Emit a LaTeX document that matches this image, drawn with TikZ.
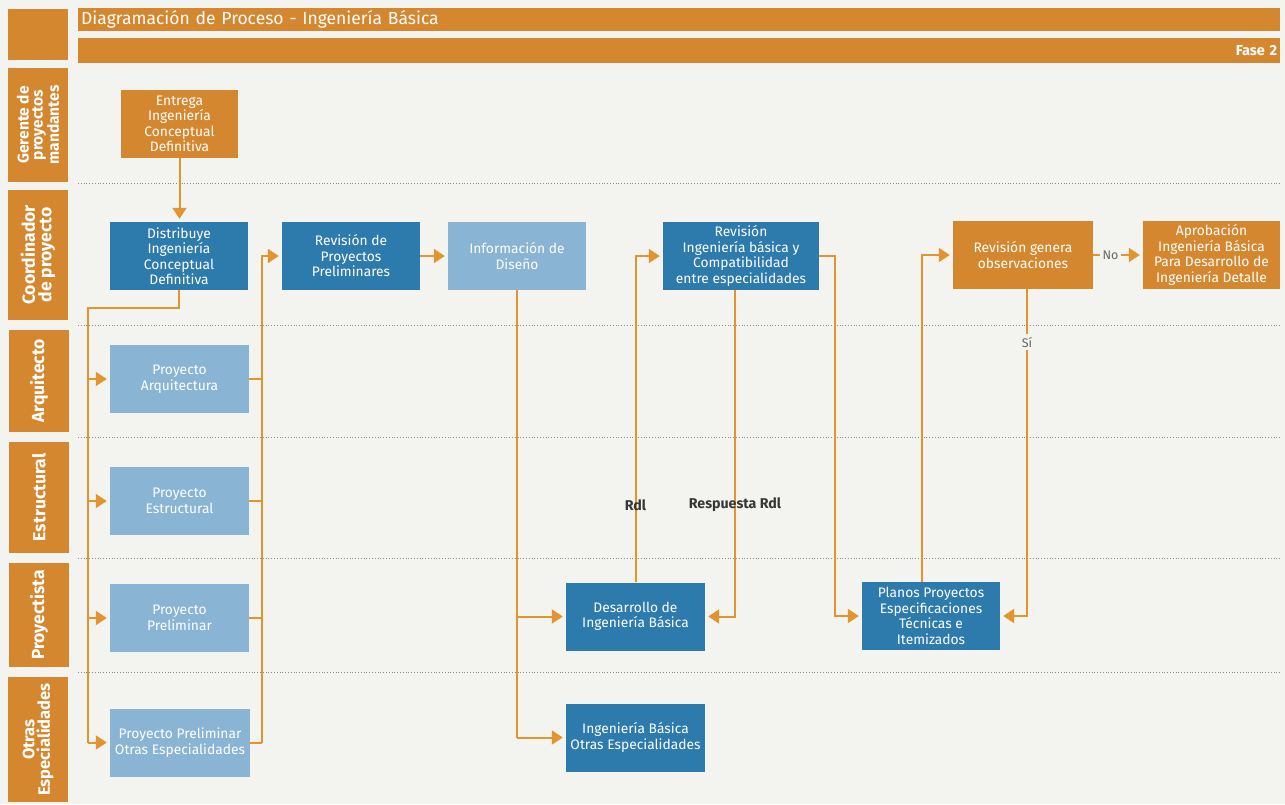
\documentclass[tikz,border=0pt]{standalone}
\usepackage{fontspec}
\setmainfont{Fira Sans}
\usetikzlibrary{arrows.meta,positioning}

\definecolor{laneorange}{RGB}{212,135,47}
\definecolor{arroworange}{RGB}{226,148,46}
\definecolor{darkblue}{RGB}{45,122,172}
\definecolor{lightblue}{RGB}{138,180,211}
\definecolor{paper}{RGB}{243,243,240}
\definecolor{labelgray}{RGB}{55,55,55}

\begin{document}
\begin{tikzpicture}
    [ x=1pt, y=-1pt
    , every node/.style={font=\fontsize{13.8}{15.5}\selectfont, text=white, inner sep=2pt}
    , lane/.style={fill=laneorange, rotate=90, minimum height=60pt, align=center, font=\fontsize{17.5}{16.5}\selectfont\bfseries}
    , bar/.style={fill=laneorange, anchor=north west, text width=1196pt, inner xsep=3pt}
    , task/.style={minimum width=138pt, minimum height=68pt, align=center}
    , dark/.style={task, fill=darkblue}
    , light/.style={task, fill=lightblue}
    , warm/.style={task, fill=laneorange}
    , link/.style={draw=arroworange, line width=2pt}
    , flow/.style={link, -{Triangle[length=11pt,width=14pt]}, shorten >=3pt}
    , sep/.style={draw=black!45, dotted, line width=0.8pt}
    , note/.style={text=labelgray, font=\fontsize{14.2}{16}\selectfont\bfseries}
    , answer/.style={text=black!60, fill=paper, inner sep=3pt, font=\fontsize{12.5}{14}\selectfont}
    ]

    \path[fill=paper] (0,0) rectangle (1285,804);

    \node[lane, minimum width=51pt] (corner) at (38,34.5) {};
    \node[lane, minimum width=114pt, font=\fontsize{15.5}{13.8}\selectfont\bfseries] (gerente) at (38,125) {Gerente de\\proyectos\\mandantes};
    \node[lane, minimum width=130pt] (coordinador) at (38,255) {Coordinador\\de proyecto};
    \node[lane, minimum width=102pt] (arquitecto) at (39,381) {Arquitecto};
    \node[lane, minimum width=111pt] (estructurista) at (39,497.5) {Estructural};
    \node[lane, minimum width=104pt] (proyectista) at (39,615) {Proyectista};
    \node[lane, minimum width=125pt, font=\fontsize{16.5}{15.5}\selectfont\bfseries] (especialistas) at (38,739.5) {Otras\\Especialidades};

    \node[bar, minimum height=23pt, align=left, font=\fontsize{17.5}{19}\selectfont] (titulo) at (78,8) {Diagramación de Proceso - Ingeniería Básica};
    \node[bar, minimum height=25pt, align=right, font=\fontsize{14.5}{16}\selectfont\bfseries] (fase) at (78,38) {Fase 2};

    \foreach \y in {183,325,437,558,672}
        \draw[sep] (78,\y) -- (1280,\y);

    \node[warm, minimum width=117pt] (entrega) at (179.5,124) {Entrega\\Ingeniería\\Conceptual\\Definitiva};
    \node[dark] (distribuye) at (179,256) {Distribuye\\Ingeniería\\Conceptual\\Definitiva};
    \node[dark] (revprelim) at (351,256) {Revisión de\\Proyectos\\Preliminares};
    \node[light] (infodiseno) at (517,256) {Información de\\Diseño};
    \node[dark, minimum width=156pt] (revbasica) at (741,256) {Revisión\\Ingeniería básica y\\Compatibilidad\\entre especialidades};
    \node[warm, minimum width=140pt] (revobs) at (1023,255) {Revisión genera\\observaciones};
    \node[warm, minimum width=137pt] (aprobacion) at (1211.5,255) {Aprobación\\Ingeniería Básica\\Para Desarrollo de\\Ingeniería Detalle};

    \node[light, minimum width=139pt] (arquitectura) at (179.5,379) {Proyecto\\Arquitectura};
    \node[light, minimum width=139pt] (estructural) at (179.5,501) {Proyecto\\Estructural};
    \node[light, minimum width=139pt] (preliminar) at (179.5,618) {Proyecto\\Preliminar};
    \node[light, minimum width=140pt] (otrasesp) at (180,742.5) {Proyecto Preliminar\\Otras Especialidades};

    \node[dark, minimum width=139pt] (desarrollo) at (635.5,616.5) {Desarrollo de\\Ingeniería Básica};
    \node[dark, minimum width=139pt] (ibotras) at (635.5,737.5) {Ingeniería Básica\\Otras Especialidades};
    \node[dark] (planos) at (931,616) {Planos Proyectos\\Especificaciones\\Técnicas e\\Itemizados};

    \draw[flow] (entrega.south) -- (entrega.south |- distribuye.north);

    \coordinate (split) at (88,308);
    \draw[link] (distribuye.south) |- (split) -- (split |- otrasesp.west);
    \foreach \n in {arquitectura,estructural,preliminar,otrasesp}
        \draw[flow] (split |- \n.west) -- (\n.west);

    \coordinate (merge) at (262,256);
    \foreach \n in {arquitectura,estructural,preliminar,otrasesp}
        \draw[link] (\n.east) -- (merge |- \n.east);
    \draw[flow] (merge |- otrasesp.east) -- (merge) -- (revprelim.west);

    \draw[flow] (revprelim) -- (infodiseno);

    \draw[link] (infodiseno.south) -- (infodiseno.south |- ibotras.west);
    \draw[flow] (infodiseno.south |- desarrollo.west) -- (desarrollo.west);
    \draw[flow] (infodiseno.south |- ibotras.west) -- (ibotras.west);

    \draw[flow] (desarrollo.north) |- node[note, pos=0.118] {Rdl} (revbasica.west);
    \coordinate (respuesta) at ([xshift=-6pt]revbasica.south);
    \draw[flow] (respuesta) |- node[note, pos=0.329] {Respuesta Rdl} (desarrollo.east);

    \draw[flow] (revbasica.east) -- ++(16,0) |- (planos.west);
    \draw[flow] ([xshift=-9pt]planos.north) |- (revobs.west);
    \draw[flow] ([xshift=4pt]revobs.south) |- node[answer, pos=0.081] {Sí} (planos.east);
    \draw[flow] (revobs) -- node[answer, pos=0.35] {No} (aprobacion);

\end{tikzpicture}
\end{document}
